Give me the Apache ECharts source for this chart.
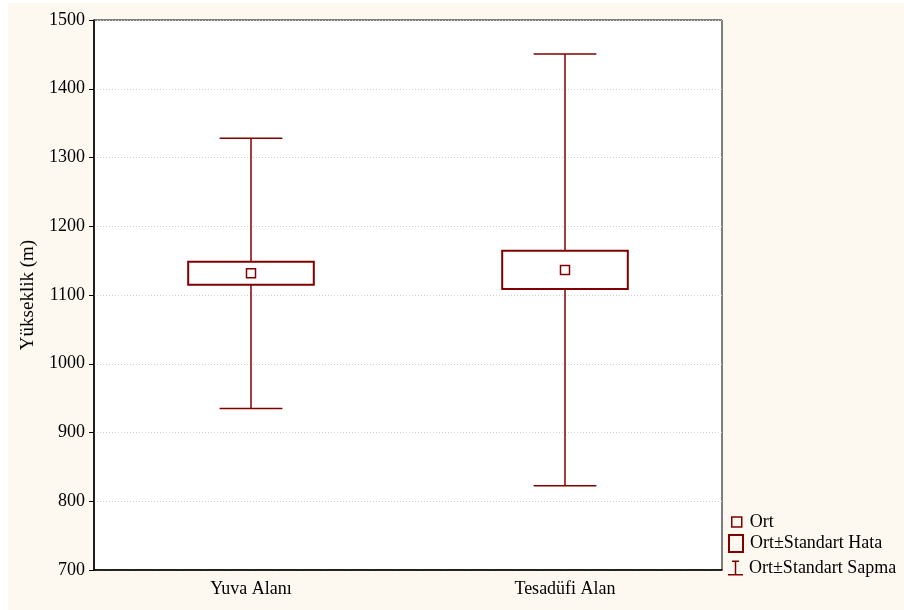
<!DOCTYPE html>
<html>
<head>
<meta charset="utf-8">
<script src="https://cdn.jsdelivr.net/npm/echarts@6/dist/echarts.min.js"></script>
<style>
  html, body { margin: 0; padding: 0; background: #ffffff; }
  #chart { position: absolute; left: 8px; top: 3px; width: 896px; height: 607px; }
</style>
</head>
<body>
<div id="chart"></div>
<script>
// Elevation by site type: mean, standard error and standard deviation
const categories = ['Yuva Alanı', 'Tesadüfi Alan'];
const means = [1131.5, 1136.5];
const stdErrors = [16.7, 27.8];
const stdDevs = [196.5, 314.0];
const yMin = 700;
const yMax = 1500;
const yStep = 100;

const MAROON = '#800000';
const FONT = 'Liberation Serif';

const rows = categories.map((c, i) => [i, means[i], stdErrors[i], stdDevs[i]]);

const chart = echarts.init(document.getElementById('chart'));

function whiskerItem(params, api) {
  const i = api.value(0), m = api.value(1), sd = api.value(3);
  const top = api.coord([i, m + sd]);
  const bot = api.coord([i, m - sd]);
  const half = api.size([1, 0])[0] * 0.2 / 2;
  const st = { stroke: MAROON, lineWidth: 1.5 };
  return {
    type: 'group',
    children: [
      { type: 'line', shape: { x1: top[0], y1: top[1], x2: bot[0], y2: bot[1] }, style: st },
      { type: 'line', shape: { x1: top[0] - half, y1: top[1], x2: top[0] + half, y2: top[1] }, style: st },
      { type: 'line', shape: { x1: bot[0] - half, y1: bot[1], x2: bot[0] + half, y2: bot[1] }, style: st }
    ]
  };
}

function boxItem(params, api) {
  const i = api.value(0), m = api.value(1), se = api.value(2);
  const hi = api.coord([i, m + se]);
  const lo = api.coord([i, m - se]);
  const w = api.size([1, 0])[0] * 0.4;
  return {
    type: 'rect',
    shape: { x: hi[0] - w / 2, y: hi[1], width: w, height: lo[1] - hi[1] },
    style: { fill: '#ffffff', stroke: MAROON, lineWidth: 2 }
  };
}

function meanItem(params, api) {
  const p = api.coord([api.value(0), api.value(1)]);
  const s = 9;
  return {
    type: 'rect',
    shape: { x: p[0] - s / 2, y: p[1] - s / 2, width: s, height: s },
    style: { fill: '#ffffff', stroke: MAROON, lineWidth: 1.5 }
  };
}

const legendText = { fontFamily: FONT, fontSize: 18, color: '#000' };

chart.setOption({
  backgroundColor: '#fdf9f0',
  animation: false,
  grid: {
    left: 86, top: 17, right: 182, bottom: 40,
    show: true, backgroundColor: '#ffffff', borderColor: '#000', borderWidth: 1
  },
  xAxis: {
    type: 'category',
    data: categories,
    boundaryGap: true,
    axisLine: { show: true, lineStyle: { color: '#000', width: 1.5 } },
    axisTick: { show: false },
    axisLabel: { color: '#000', fontFamily: FONT, fontSize: 18, margin: 10 },
    splitLine: { show: false }
  },
  yAxis: {
    type: 'value',
    min: yMin, max: yMax, interval: yStep,
    name: 'Yükseklik (m)',
    nameLocation: 'middle',
    nameGap: 56,
    nameTextStyle: { color: '#000', fontFamily: FONT, fontSize: 19 },
    axisLine: { show: true, lineStyle: { color: '#000', width: 1.5 } },
    axisTick: { show: true, inside: false, length: 5, lineStyle: { color: '#000' } },
    axisLabel: {
      color: '#000', fontFamily: FONT, fontSize: 18, margin: 9,
      formatter: (v) => String(v)
    },
    splitLine: { show: true, lineStyle: { color: '#cfcfcf', type: [1, 2], width: 1 } }
  },
  legend: [
    {
      left: 723, top: 510, padding: 0, orient: 'vertical',
      itemWidth: 10, itemHeight: 10,
      textStyle: Object.assign({ padding: [0, 0, 0, 3] }, legendText),
      data: [{ name: 'Ort', icon: 'rect',
        itemStyle: { color: 'transparent', borderColor: MAROON, borderWidth: 1.5 } }]
    },
    {
      left: 720, top: 531, padding: 0, orient: 'vertical',
      itemWidth: 14, itemHeight: 17,
      textStyle: Object.assign({ padding: [0, 0, 0, 2] }, legendText),
      data: [{ name: 'Ort±Standart Hata', icon: 'rect',
        itemStyle: { color: 'transparent', borderColor: MAROON, borderWidth: 2 } }]
    },
    {
      left: 720, top: 556, padding: 0, orient: 'vertical',
      itemWidth: 15, itemHeight: 15,
      textStyle: Object.assign({ padding: [0, 0, 0, 1] }, legendText),
      data: [{ name: 'Ort±Standart Sapma',
        icon: 'path://M4,0h7v1.5h-2.75v12h6.75v1.5h-15v-1.5h6.75v-12h-2.75z',
        itemStyle: { color: MAROON, borderWidth: 0 } }]
    }
  ],
  series: [
    { name: 'Ort±Standart Sapma', type: 'custom', renderItem: whiskerItem, data: rows, z: 2,
      encode: { x: 0, y: 1 } },
    { name: 'Ort±Standart Hata', type: 'custom', renderItem: boxItem, data: rows, z: 3,
      encode: { x: 0, y: 1 } },
    { name: 'Ort', type: 'custom', renderItem: meanItem, data: rows, z: 4,
      encode: { x: 0, y: 1 } }
  ]
});
</script>
</body>
</html>
